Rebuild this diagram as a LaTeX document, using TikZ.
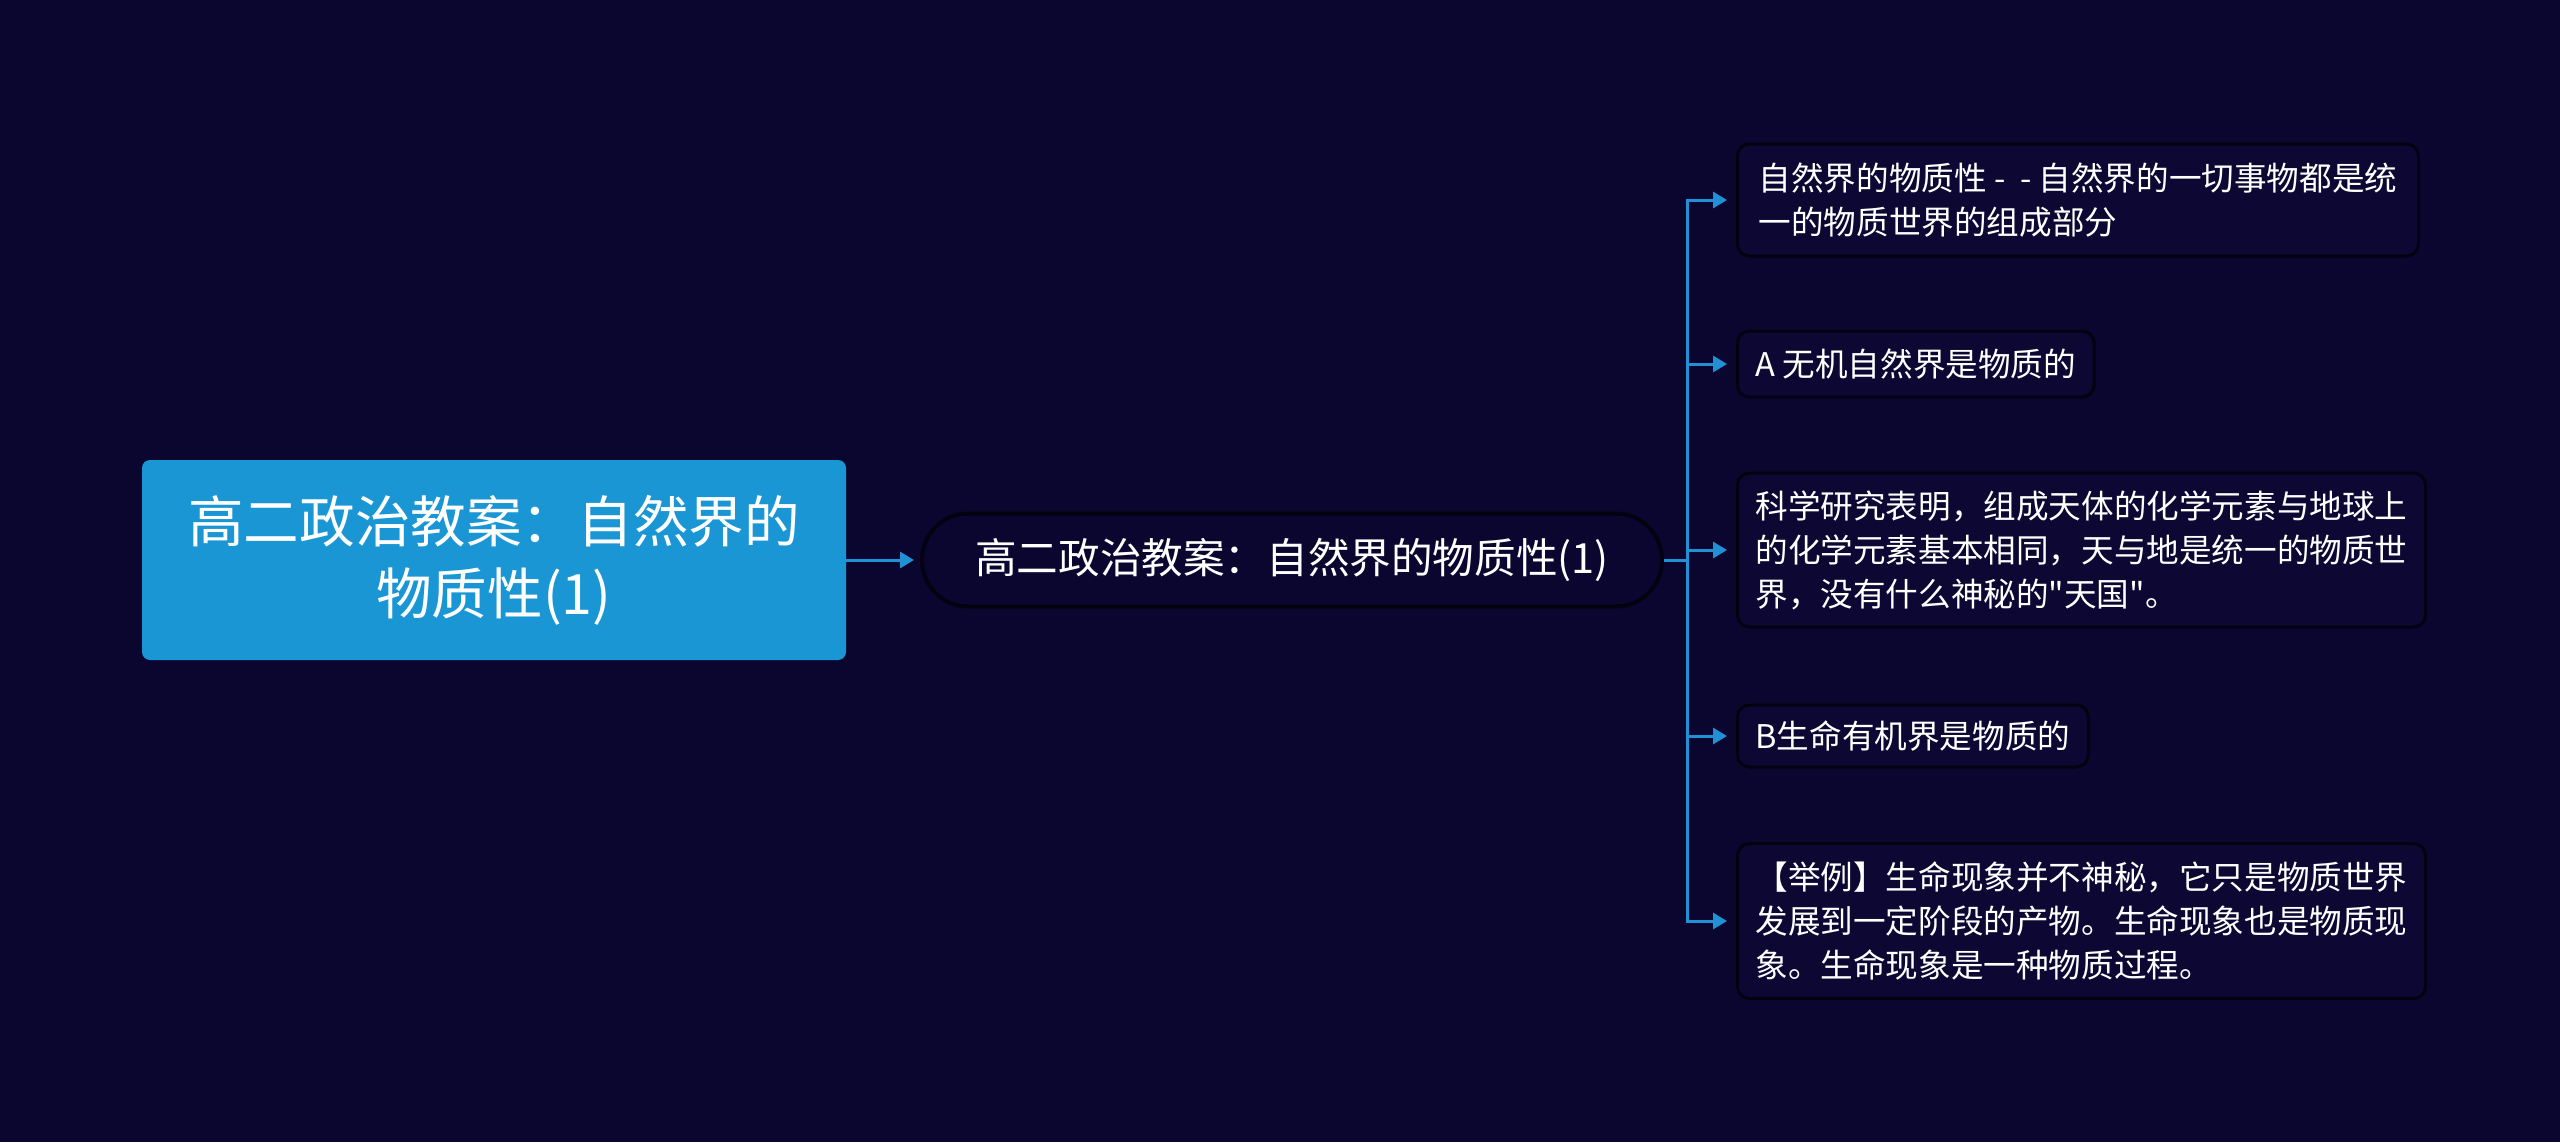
\documentclass[tikz,border=0pt]{standalone}
\usepackage{fontspec}
\setmainfont{Noto Sans CJK SC}
\newfontfamily\quotefont{Noto Sans CJK SC}
\usetikzlibrary{arrows.meta}
\definecolor{bg_navy}{HTML}{0B0630}
\definecolor{root_blue}{HTML}{1A96D5}
\definecolor{link_blue}{HTML}{2191D6}
\definecolor{box_edge}{HTML}{030210}
\definecolor{box_fill}{HTML}{0C0833}
\newcommand{\plainquote}{{\quotefont\char"22\relax}}

\begin{document}
\begin{tikzpicture}[x=0.5pt, y=-0.5pt,
	link/.style={link_blue, line width=1.5pt},
	tip/.style={-{Triangle[length=7pt, width=8pt]}},
	leaf/.style={draw=box_edge, line width=1.5pt, fill=box_fill, rounded corners=6pt, anchor=west, align=left, text=white, inner xsep=9pt, inner ysep=0pt, font=\fontsize{16.3}{22}\selectfont}]
	\fill[bg_navy] (0, 0) rectangle (2560, 1142);
	\useasboundingbox (0, 0) rectangle (2560, 1142);
	\node[fill=root_blue, rounded corners=4pt, minimum width=352pt, minimum height=100pt, align=center, text=white, font=\fontsize{27.8}{36}\selectfont] (root) at (494, 560) {高二政治教案：自然界的\\物质性(1)};
	\node[draw=box_edge, line width=2pt, fill=bg_navy, rounded corners=23pt, minimum width=370pt, minimum height=46.5pt, text=white, font=\fontsize{20.8}{26}\selectfont] (topic) at (1292, 560) {高二政治教案：自然界的物质性(1)};
	\node[leaf, minimum width=340.5pt, minimum height=56pt] (c1) at (1736, 200) {自然界的物质性~-~~-~自然界的一切事物都是统\\一的物质世界的组成部分};
	\node[leaf, minimum height=33pt] (c2) at (1736, 364) {A 无机自然界是物质的};
	\node[leaf, minimum width=340.5pt, minimum height=77pt] (c3) at (1736, 550) {科学研究表明，组成天体的化学元素与地球上\\的化学元素基本相同，天与地是统一的物质世\\界，没有什么神秘的\plainquote 天国\plainquote。};
	\node[leaf, minimum height=31pt] (c4) at (1736, 736) {B生命有机界是物质的};
	\node[leaf, minimum width=340.5pt, minimum height=77.5pt] (c5) at (1736, 921) {【举例】生命现象并不神秘，它只是物质世界\\发展到一定阶段的产物。生命现象也是物质现\\象。生命现象是一种物质过程。};
	\coordinate (trunk) at (1687, 560);
	\draw[link, tip, shorten >=3pt] (root.east) -- (topic.west);
	\draw[link] (topic.east) -- (trunk);
	\foreach \leafname in {c1, c2, c3, c4, c5}
		\draw[link, tip, shorten >=4.5pt] (trunk) |- (\leafname.west);
\end{tikzpicture}
\end{document}
